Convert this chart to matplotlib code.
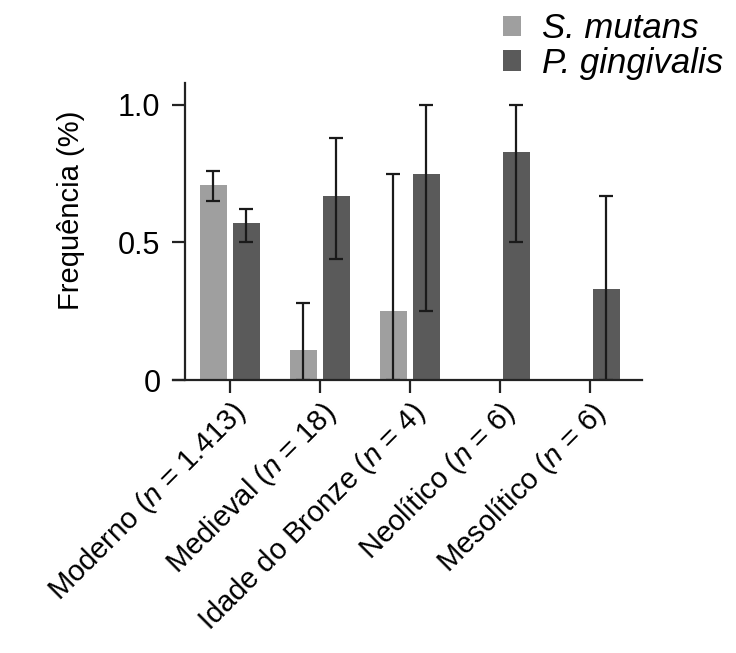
import numpy as np
import matplotlib.pyplot as plt

plt.rcParams['font.family'] = ['Liberation Sans', 'DejaVu Sans']
plt.rcParams['mathtext.fontset'] = 'custom'
plt.rcParams['mathtext.it'] = 'Liberation Sans:italic'
plt.rcParams['mathtext.rm'] = 'Liberation Sans'

grupos = ['Moderno ($n$ = 1.413)', 'Medieval ($n$ = 18)', 'Idade do Bronze ($n$ = 4)',
          'Neolítico ($n$ = 6)', 'Mesolítico ($n$ = 6)']
s_mutans = [0.71, 0.11, 0.25, 0.0, 0.0]
s_mutans_lo = [0.65, 0.0, 0.0, 0.0, 0.0]
s_mutans_hi = [0.76, 0.28, 0.75, 0.0, 0.0]
p_ging = [0.57, 0.67, 0.75, 0.83, 0.33]
p_ging_lo = [0.50, 0.44, 0.25, 0.50, 0.0]
p_ging_hi = [0.62, 0.88, 1.0, 1.0, 0.67]

cor_s = '#9f9f9f'
cor_p = '#5a5a5a'

x = np.arange(len(grupos))
w = 0.3
d = 0.183

fig = plt.figure(figsize=(7.36, 6.53), dpi=100)
ax = fig.add_axes([0.235, 0.418, 0.637, 0.455])

s = np.array(s_mutans)
p = np.array(p_ging)
err_s = [s - np.array(s_mutans_lo), np.array(s_mutans_hi) - s]
err_p = [p - np.array(p_ging_lo), np.array(p_ging_hi) - p]
mask = s > 0

ax.bar(x - d, s, w, color=cor_s, label='S. mutans')
ax.bar(x + d, p, w, color=cor_p, label='P. gingivalis')
ax.errorbar((x - d)[mask], s[mask], yerr=[err_s[0][mask], err_s[1][mask]],
            fmt='none', ecolor='#1a1a1a', elinewidth=1.6, capsize=5, capthick=1.6)
ax.errorbar(x + d, p, yerr=err_p, fmt='none', ecolor='#1a1a1a',
            elinewidth=1.6, capsize=5, capthick=1.6)

ax.set_xlim(-0.633, 4.58)
ax.set_ylim(0, 1.08)
ax.spines['top'].set_visible(False)
ax.spines['right'].set_visible(False)
ax.spines['left'].set_position(('data', -0.5))
ax.spines['left'].set_bounds(0, 1.08)
for sp in ['left', 'bottom']:
    ax.spines[sp].set_linewidth(1.6)
    ax.spines[sp].set_color('#222222')

ax.set_yticks([0, 0.5, 1.0])
ax.set_yticklabels(['0', '0.5', '1.0'], fontsize=22)
ax.set_xticks(x)
ax.set_xticklabels(grupos, rotation=45, ha='right', va='top',
                   rotation_mode='anchor', fontsize=21)
ax.tick_params(axis='both', length=9.5, width=1.6, color='#222222')
ax.tick_params(axis='x', pad=3)
ax.tick_params(axis='y', pad=8)
ax.set_ylabel('Frequência (%)', fontsize=21)
ax.yaxis.set_label_coords(-0.187, 0.57)

fig.legend(loc='upper left', bbox_to_anchor=(503 / 736, 1 - 12 / 653), frameon=False,
           handlelength=0.52, handleheight=0.52, borderpad=0, borderaxespad=0,
           handletextpad=0.6, labelspacing=0.05, prop={'style': 'italic', 'size': 25})

fig.savefig('out.png', dpi=100)
